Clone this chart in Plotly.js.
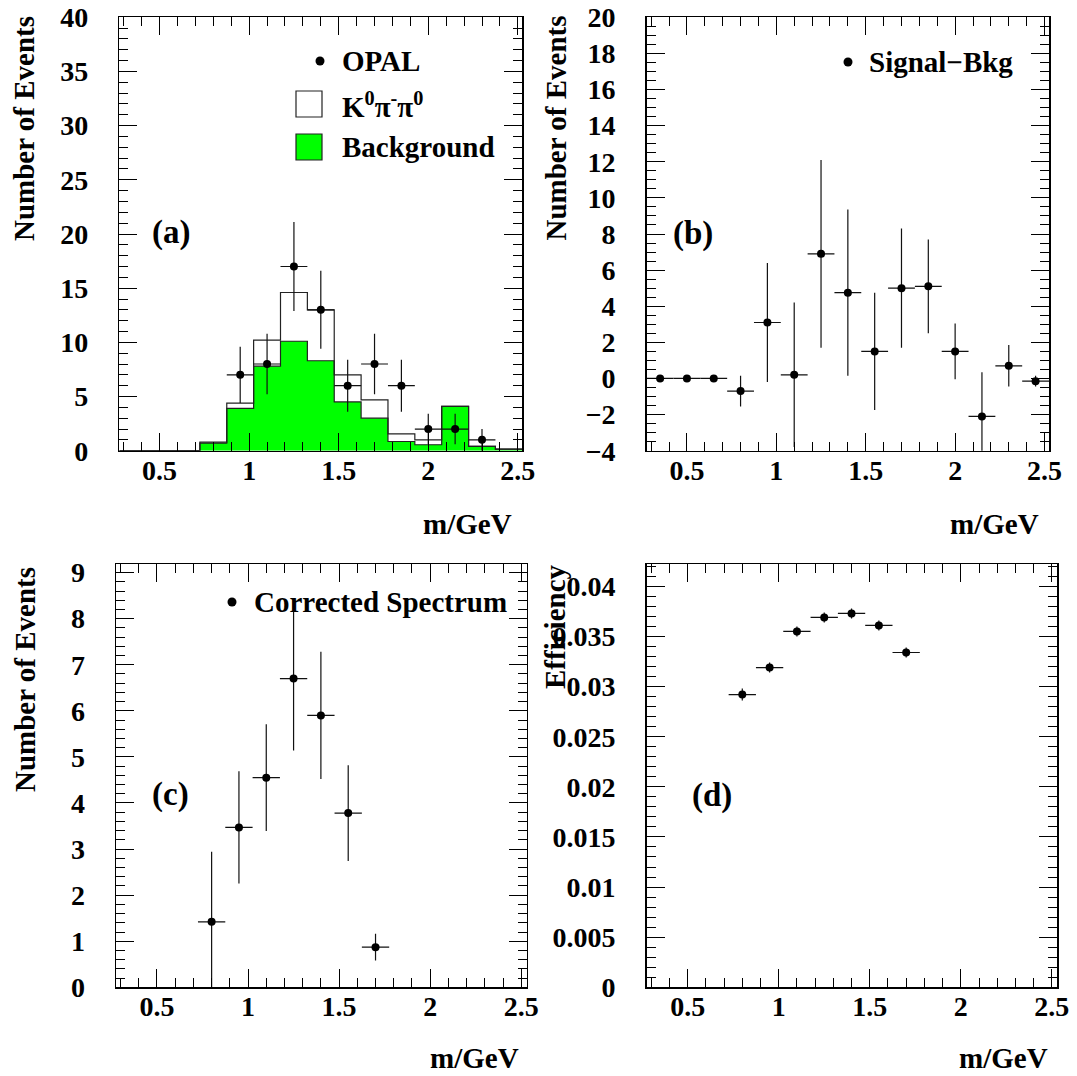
<!DOCTYPE html>
<html>
<head>
<meta charset="utf-8">
<script src="https://cdn.plot.ly/plotly-3.0.1.min.js"></script>
<style>html,body{margin:0;padding:0;background:#fff;}#plot{width:1077px;height:1076px;}</style>
</head>
<body>
<div id="plot"></div>
<script>
// ---------------- DATA ----------------
const binEdges = [0.275,0.425,0.575,0.725,0.875,1.025,1.175,1.325,1.475,1.625,1.775,1.925,2.075,2.225,2.375,2.525];
const binCenters = [0.35,0.5,0.65,0.8,0.95,1.1,1.25,1.4,1.55,1.7,1.85,2.0,2.15,2.3,2.45];
const binHalfWidth = 0.075;

// (a) histograms
const totalMC = [0,0,0,0.8,4.4,10.2,14.6,13.0,7.0,4.7,1.55,1.0,4.1,0.4,0.15];
const background = [0,0,0,0.7,3.9,7.8,10.1,8.3,4.5,3.0,0.85,0.55,4.1,0.4,0.15];
// (a) OPAL data
const opalX = [0.95,1.1,1.25,1.4,1.55,1.7,1.85,2.0,2.15,2.3];
const opalY = [7,8,17,13,6,8,6,2,2,1];
const opalErr = [2.6,2.8,4.1,3.6,2.4,2.8,2.4,1.4,1.4,1.0];

// (b) Signal - Bkg
const sbY = [0,0,0,-0.7,3.1,0.2,6.9,4.75,1.5,5.0,5.1,1.5,-2.1,0.7,-0.15];
const sbErr = [0,0,0,0.85,3.3,4.0,5.2,4.6,3.25,3.3,2.6,1.55,2.45,1.15,0.3];

// (c) Corrected spectrum
const corrX = [0.8,0.95,1.1,1.25,1.4,1.55,1.7];
const corrY = [1.42,3.47,4.55,6.7,5.9,3.78,0.87];
const corrErr = [1.52,1.22,1.16,1.56,1.38,1.04,0.29];

// (d) Efficiency
const effX = [0.8,0.95,1.1,1.25,1.4,1.55,1.7];
const effY = [0.0292,0.0319,0.0355,0.0369,0.0373,0.0361,0.0334];
const effErr = [0.0006,0.0005,0.0005,0.0005,0.0005,0.0005,0.0005];

// tick values / labels
const xTickVals = [0.5,1,1.5,2,2.5];
const xTickText = ['0.5','1','1.5','2','2.5'];
const yTickValsA = [0,5,10,15,20,25,30,35,40];
const yTickTextA = ['0','5','10','15','20','25','30','35','40'];
const yTickValsB = [-4,-2,0,2,4,6,8,10,12,14,16,18,20];
const yTickTextB = ['\u22124','\u22122','0','2','4','6','8','10','12','14','16','18','20'];
const yTickValsC = [0,1,2,3,4,5,6,7,8,9];
const yTickTextC = ['0','1','2','3','4','5','6','7','8','9'];
const yTickValsD = [0,0.005,0.01,0.015,0.02,0.025,0.03,0.035,0.04];
const yTickTextD = ['0','0.005','0.01','0.015','0.02','0.025','0.03','0.035','0.04'];

// texts
const xTitle = 'm/GeV';
const yTitleEvents = 'Number of Events';
const yTitleEff = 'Efficiency';
const panelLabels = ['(a)','(b)','(c)','(d)'];
const legendA = ['OPAL','K<sup>0</sup>π<sup>-</sup>π<sup>0</sup>','Background'];
const legendB = 'Signal\u2212Bkg';
const legendC = 'Corrected Spectrum';

// ---------------- STYLE / LAYOUT ----------------
const W = 1077, H = 1076;
const X = p => p / W;
const Y = p => 1 - p / H;
const FONT = 'Liberation Serif, Times New Roman, serif';
const GREEN = '#00ff00';

function step(vals){ return vals.concat([vals[vals.length-1]]); }
const bold = arr => arr.map(t => '<b>' + t + '</b>');

function axisBase(extra){
  return Object.assign({
    showline:true, linecolor:'black', linewidth:1.5, mirror:'allticks',
    ticks:'inside', ticklen:18, tickwidth:1, tickcolor:'black',
    showgrid:false, zeroline:false, fixedrange:true,
    tickfont:{family:FONT, size:28, color:'black', weight:700},
  }, extra);
}
function xAxis(dom, anchor, range){
  return axisBase({domain:dom, anchor:anchor, range:range,
    tickmode:'array', tickvals:xTickVals, ticktext:bold(xTickText),
    ticklabelstandoff:-6,
    minor:{ticks:'inside', ticklen:9, tickwidth:1, tickcolor:'black', tickmode:'linear', dtick:0.1, tick0:0, showgrid:false}});
}
function yAxis(dom, anchor, range, vals, text, mdtick){
  return axisBase({domain:dom, anchor:anchor, range:range,
    tickmode:'array', tickvals:vals, ticktext:bold(text),
    ticklabelstandoff:24,
    minor:{ticks:'inside', ticklen:9, tickwidth:1, tickcolor:'black', tickmode:'linear', dtick:mdtick, tick0:0, showgrid:false}});
}

const domXa = [X(119.3), X(522.3)], domXb = [X(646.7), X(1049)];
const domXc = [X(116), X(526.7)], domXd = [X(646.7), X(1057.3)];
const domYtop = [Y(450.7), Y(17.3)], domYbot = [Y(987.3), Y(564.3)];

function points(x, y, err, xa, ya){
  return {type:'scatter', mode:'markers', x:x, y:y, xaxis:xa, yaxis:ya,
    marker:{size:8, color:'black'},
    error_y:{type:'data', array:err, visible:true, thickness:1.2, width:0, color:'#111'},
    error_x:{type:'constant', value:binHalfWidth, visible:true, thickness:1.2, width:0, color:'#111'},
    hoverinfo:'skip', cliponaxis:true};
}

const traces = [
  {type:'scatter', mode:'lines', x:binEdges, y:step(background), xaxis:'x', yaxis:'y',
   line:{shape:'hv', color:'#222', width:1.2}, fill:'tozeroy', fillcolor:GREEN, hoverinfo:'skip'},
  {type:'scatter', mode:'lines', x:binEdges, y:step(totalMC), xaxis:'x', yaxis:'y',
   line:{shape:'hv', color:'#222', width:1.2}, hoverinfo:'skip'},
  points(opalX, opalY, opalErr, 'x', 'y'),
  points(binCenters, sbY, sbErr, 'x2', 'y2'),
  points(corrX, corrY, corrErr, 'x3', 'y3'),
  points(effX, effY, effErr, 'x4', 'y4'),
];

function ann(text, x, y, opts){
  return Object.assign({text:'<b>' + text + '</b>', xref:'paper', yref:'paper', x:X(x), y:Y(y),
    showarrow:false, xanchor:'left', yanchor:'middle',
    font:{family:FONT, size:29, color:'black', weight:700}}, opts||{});
}
function rot(text, x, y){ return ann(text, x, y, {xanchor:'center', yanchor:'middle', textangle:-90}); }
const LBL = {family:FONT, size:33, color:'black', weight:700};

const annotations = [
  rot(yTitleEvents, 23.5, 128.5),
  rot(yTitleEvents, 555, 128.5),
  rot(yTitleEvents, 25, 680),
  rot(yTitleEff, 555, 627),
  ann(xTitle, 514, 524, {xanchor:'right'}),
  ann(xTitle, 1041, 524, {xanchor:'right'}),
  ann(xTitle, 521, 1058, {xanchor:'right'}),
  ann(xTitle, 1050, 1058, {xanchor:'right'}),
  ann(panelLabels[0], 171, 232, {xanchor:'center', font:LBL}),
  ann(panelLabels[1], 693, 234, {xanchor:'center', font:LBL}),
  ann(panelLabels[2], 170, 794, {xanchor:'center', font:LBL}),
  ann(panelLabels[3], 712, 795, {xanchor:'center', font:LBL}),
  ann(legendA[0], 340, 61),
  ann(legendA[1], 340, 105),
  ann(legendA[2], 340, 147),
  ann(legendB, 867, 62),
  ann(legendC, 252, 602),
];

function dot(cx, cy, r){
  return {type:'circle', xref:'paper', yref:'paper', x0:X(cx-r), x1:X(cx+r), y0:Y(cy+r), y1:Y(cy-r),
    fillcolor:'black', line:{color:'black', width:0}};
}
function box(x0, y0, x1, y1, fill){
  return {type:'rect', xref:'paper', yref:'paper', x0:X(x0), x1:X(x1), y0:Y(y1), y1:Y(y0),
    fillcolor:fill, line:{color:'#222', width:1.2}};
}
const shapes = [
  dot(320, 61, 4.5),
  box(296, 91, 322, 117, 'white'),
  box(296, 134, 322, 160, GREEN),
  dot(848, 62, 4.5),
  dot(232, 602, 4.5),
];

const layout = {
  width:W, height:H, margin:{l:0,r:0,t:0,b:0},
  paper_bgcolor:'white', plot_bgcolor:'white', showlegend:false,
  font:{family:FONT, size:28, color:'black'},
  xaxis: xAxis(domXa, 'y', [0.275, 2.525]),
  yaxis: yAxis(domYtop, 'x', [0, 40], yTickValsA, yTickTextA, 1),
  xaxis2: xAxis(domXb, 'y2', [0.275, 2.525]),
  yaxis2: yAxis(domYtop, 'x2', [-4, 20], yTickValsB, yTickTextB, 0.5),
  xaxis3: xAxis(domXc, 'y3', [0.275, 2.53]),
  yaxis3: yAxis(domYbot, 'x3', [0, 9.18], yTickValsC, yTickTextC, 0.2),
  xaxis4: xAxis(domXd, 'y4', [0.275, 2.53]),
  yaxis4: yAxis(domYbot, 'x4', [0, 0.0422], yTickValsD, yTickTextD, 0.001),
  annotations: annotations,
  shapes: shapes,
};

Plotly.newPlot('plot', traces, layout, {staticPlot:true, displayModeBar:false});
</script>
</body>
</html>
